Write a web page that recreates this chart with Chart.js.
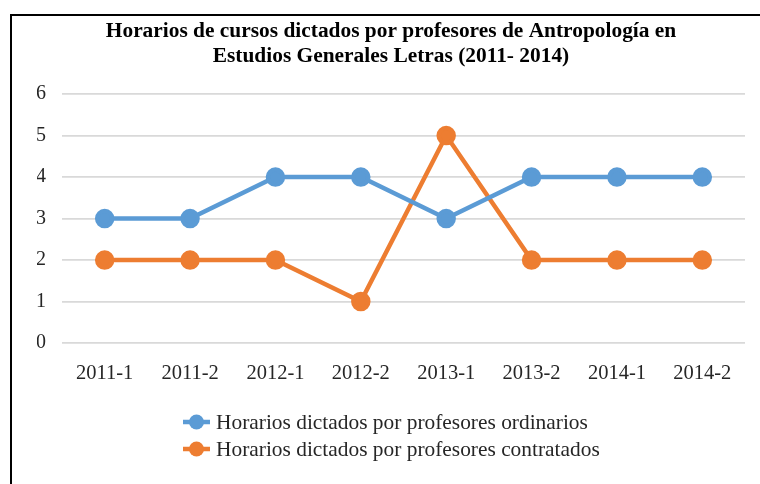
<!DOCTYPE html>
<html>
<head>
<meta charset="utf-8">
<script src="https://cdn.jsdelivr.net/npm/chart.js@4.4.1/dist/chart.umd.min.js"></script>
<style>
  html, body { margin: 0; padding: 0; background: #fff; }
  #wrap { position: relative; width: 760px; height: 484px; overflow: hidden; }
  #frame { position: absolute; left: 10px; top: 14px; width: 800px; height: 520px;
           border-left: 2px solid #000; border-top: 2px solid #000; }
  canvas { position: absolute; left: 0; top: 0; }
</style>
</head>
<body>
<div id="wrap">
  <div id="frame"></div>
  <canvas id="grafico" width="760" height="484"></canvas>
</div>
<script>
// Datos del gráfico
const semestres = ['2011-1', '2011-2', '2012-1', '2012-2', '2013-1', '2013-2', '2014-1', '2014-2'];
const ordinarios = [3, 3, 4, 4, 3, 4, 4, 4];
const contratados = [2, 2, 2, 1, 5, 2, 2, 2];
const tituloLineas = [
    'Horarios de cursos dictados por profesores de Antropología en',
    'Estudios Generales Letras (2011- 2014)'
];
const nombresSeries = [
    'Horarios dictados por profesores ordinarios',
    'Horarios dictados por profesores contratados'
];

const AZUL = '#5B9BD5';
const NARANJA = '#ED7D31';
const FUENTE = '"Liberation Serif", "Times New Roman", serif';

// Leyenda vertical dibujada a mano (como en Excel)
const leyendaExcel = {
    id: 'leyendaExcel',
    afterDraw(chart) {
        const ctx = chart.ctx;
        const x0 = 183, x1 = 210, xt = 216;
        const filas = [422, 449];
        ctx.save();
        chart.data.datasets.forEach((ds, i) => {
            const y = filas[i];
            ctx.strokeStyle = ds.borderColor;
            ctx.lineWidth = 4.5;
            ctx.beginPath();
            ctx.moveTo(x0, y);
            ctx.lineTo(x1, y);
            ctx.stroke();
            ctx.fillStyle = ds.backgroundColor;
            ctx.beginPath();
            ctx.arc((x0 + x1) / 2, y, 7.5, 0, Math.PI * 2);
            ctx.fill();
            ctx.fillStyle = '#262626';
            ctx.font = '21.4px ' + FUENTE;
            ctx.textBaseline = 'middle';
            ctx.textAlign = 'left';
            ctx.fillText(ds.label, xt, y + 1);
        });
        ctx.restore();
    }
};

new Chart(document.getElementById('grafico'), {
    type: 'line',
    data: {
        labels: semestres,
        datasets: [
            {
                label: nombresSeries[0],
                data: ordinarios,
                borderColor: AZUL,
                backgroundColor: AZUL,
                borderWidth: 4.5,
                pointRadius: 7.5,
                pointHoverRadius: 7.5,
                tension: 0
            },
            {
                label: nombresSeries[1],
                data: contratados,
                borderColor: NARANJA,
                backgroundColor: NARANJA,
                borderWidth: 4.5,
                pointRadius: 7.5,
                pointHoverRadius: 7.5,
                tension: 0
            }
        ]
    },
    options: {
        responsive: false,
        animation: false,
        layout: { padding: { left: 37, right: 15, top: 0, bottom: 81 } },
        scales: {
            x: {
                offset: true,
                grid: { display: false },
                border: { display: false },
                ticks: { color: '#262626', font: { family: FUENTE, size: 20.5 }, padding: 10 },
                afterFit: (s) => { s.height = 60; }
            },
            y: {
                min: 0,
                max: 6,
                grid: { color: '#D9D9D9', lineWidth: 1.8, drawTicks: false },
                border: { display: false },
                ticks: { stepSize: 1, color: '#262626', font: { family: FUENTE, size: 20 }, padding: 16 },
                afterFit: (s) => { s.width = 25; }
            }
        },
        plugins: {
            legend: { display: false },
            tooltip: { enabled: false },
            title: {
                display: true,
                text: tituloLineas,
                color: '#000',
                font: { family: FUENTE, size: 21.4, weight: 'bold', lineHeight: 1.17 },
                padding: { top: 19, bottom: 25 }
            }
        }
    },
    plugins: [leyendaExcel]
});
</script>
</body>
</html>
